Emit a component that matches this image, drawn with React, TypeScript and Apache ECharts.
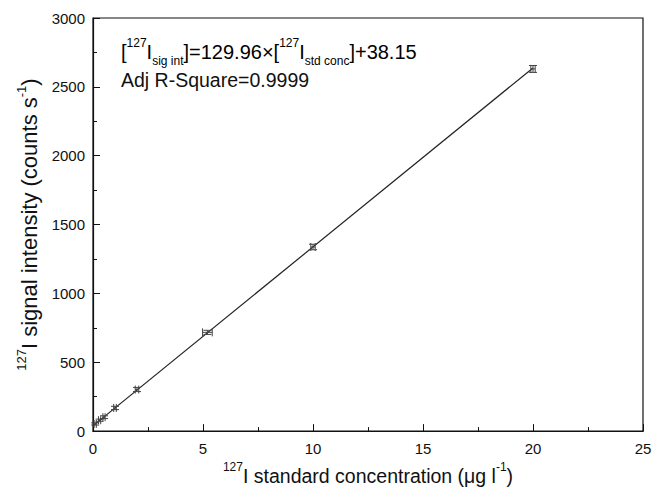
import React, { useEffect, useRef } from "react";
import * as echarts from "echarts";

// measured calibration points (x: standard concentration, y: signal intensity)
const concentration = [0.1, 0.3, 0.5, 1, 2, 5.2, 10, 20];
const intensity = [52, 79, 101, 168, 302, 717, 1337, 2630];
const concErr = [0.05, 0.05, 0.05, 0.06, 0.08, 0.22, 0.1, 0.1];
const intensityErr = [8, 8, 10, 12, 15, 15, 20, 25];

// linear fit
const slope = 129.96;
const intercept = 38.15;
const fitRange = [0, 20];

const xMin = 0, xMax = 25, xInterval = 5;
const yMin = 0, yMax = 3000, yInterval = 500;

const FONT = "Liberation Sans, Arial, sans-serif";
const INK = "#111";

export default function App() {
  const ref = useRef<HTMLDivElement>(null);
  useEffect(() => {
    if (!ref.current) return;
    const chart = echarts.init(ref.current, null, { renderer: "svg" });
    const fitData = fitRange.map((x) => [x, slope * x + intercept]);
    const errData = concentration.map((x, i) => [x, intensity[i], concErr[i], intensityErr[i]]);
    const LH = 30;
    const nStyle = { fontSize: 19.5, fontFamily: FONT, color: INK, verticalAlign: "middle", lineHeight: LH };
    const supStyle = { fontSize: 12, fontFamily: FONT, color: INK, verticalAlign: "top", lineHeight: LH };
    const subStyle = { fontSize: 12, fontFamily: FONT, color: INK, verticalAlign: "bottom", lineHeight: LH };
    const eqN = { ...nStyle, fontSize: 20 };
    const yN = { ...nStyle, fontSize: 22 };
    const ySup = { ...supStyle, fontSize: 13 };
    chart.setOption({
      animation: false,
      backgroundColor: "#fff",
      grid: { left: 93, right: 13, top: 18, bottom: 59, show: true, borderColor: INK, borderWidth: 1.2 },
      xAxis: {
        type: "value",
        min: xMin,
        max: xMax,
        interval: xInterval,
        name: "{sup|127}{n|I standard concentration (μg l}{sup|-1}{n|)}",
        nameLocation: "middle",
        nameGap: 29,
        nameTextStyle: { rich: { sup: supStyle, n: nStyle } },
        axisLine: { lineStyle: { color: INK, width: 1.2 } },
        axisTick: { inside: true, length: 7, lineStyle: { color: INK } },
        minorTick: { show: true, splitNumber: 2, length: 4, lineStyle: { color: INK } },
        axisLabel: { fontSize: 15, fontFamily: FONT, color: INK, margin: 10, formatter: (v: number) => String(v) },
        splitLine: { show: false },
      },
      yAxis: {
        type: "value",
        min: yMin,
        max: yMax,
        interval: yInterval,
        name: "{sup|127}{n|I signal intensity (counts s}{sup|-1}{n|)}",
        nameLocation: "middle",
        nameGap: 48,
        nameRotate: 90,
        nameTextStyle: { rich: { sup: ySup, n: yN } },
        axisLine: { show: true, lineStyle: { color: INK, width: 1.2 } },
        axisTick: { inside: true, length: 7, lineStyle: { color: INK } },
        minorTick: { show: true, splitNumber: 2, length: 4, lineStyle: { color: INK } },
        axisLabel: { fontSize: 15, fontFamily: FONT, color: INK, margin: 8, formatter: (v: number) => String(v) },
        splitLine: { show: false },
      },
      graphic: [
        {
          type: "text",
          left: 121,
          top: 37,
          style: {
            text: "{n|[}{sup|127}{n|I}{sub|sig int}{n|]=129.96×[}{sup|127}{n|I}{sub|std conc}{n|]+38.15}",
            rich: { n: eqN, sup: supStyle, sub: subStyle },
          },
        },
        {
          type: "text",
          left: 121,
          top: 70,
          style: { text: "Adj R-Square=0.9999", font: `19.5px ${FONT}`, fill: INK },
        },
      ],
      series: [
        {
          type: "line",
          data: fitData,
          symbol: "none",
          lineStyle: { color: "#222", width: 1.2 },
          z: 2,
        },
        {
          type: "custom",
          data: errData,
          z: 3,
          renderItem: (params: any, api: any) => {
            const x = api.value(0), y = api.value(1), ex = api.value(2), ey = api.value(3);
            const c = api.coord([x, y]);
            const l = api.coord([x - ex, y]);
            const r = api.coord([x + ex, y]);
            const t = api.coord([x, y + ey]);
            const b = api.coord([x, y - ey]);
            const cap = 4;
            const style = { stroke: "#444", lineWidth: 1 };
            return {
              type: "group",
              children: [
                { type: "line", shape: { x1: l[0], y1: c[1], x2: r[0], y2: c[1] }, style },
                { type: "line", shape: { x1: l[0], y1: c[1] - cap, x2: l[0], y2: c[1] + cap }, style },
                { type: "line", shape: { x1: r[0], y1: c[1] - cap, x2: r[0], y2: c[1] + cap }, style },
                { type: "line", shape: { x1: c[0], y1: t[1], x2: c[0], y2: b[1] }, style },
                { type: "line", shape: { x1: c[0] - cap, y1: t[1], x2: c[0] + cap, y2: t[1] }, style },
                { type: "line", shape: { x1: c[0] - cap, y1: b[1], x2: c[0] + cap, y2: b[1] }, style },
              ],
            };
          },
        },
      ],
    });
    return () => chart.dispose();
  }, []);
  return (
    <div
      ref={ref}
      style={{ position: "fixed", left: 0, top: 0, width: 656, height: 491, background: "#fff" }}
    />
  );
}
